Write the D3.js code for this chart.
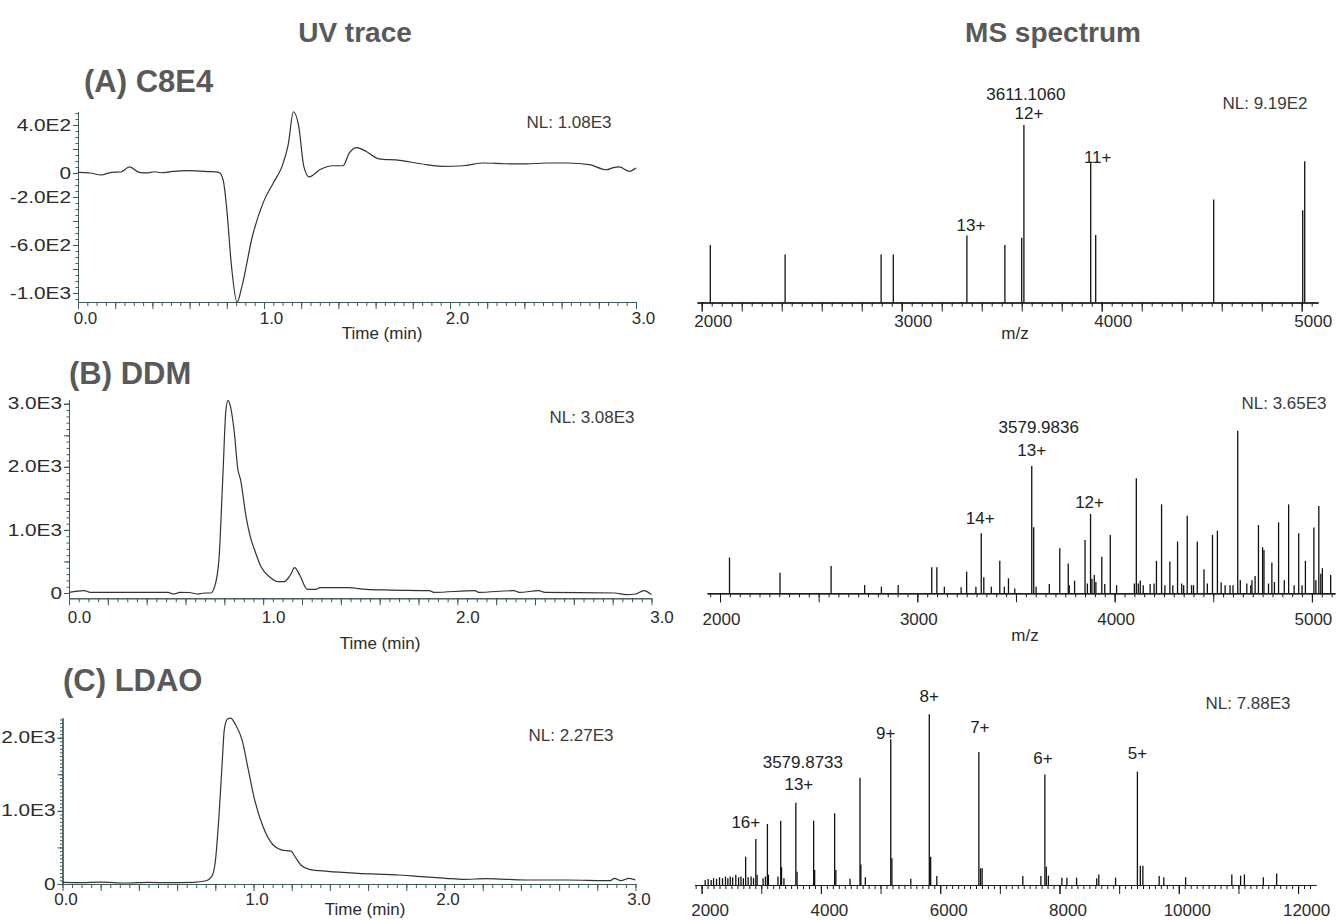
<!DOCTYPE html>
<html>
<head>
<meta charset="utf-8">
<script src="https://cdn.jsdelivr.net/npm/d3@7"></script>
<style>
body { margin: 0; background: #fff; }
text { font-family: "Liberation Sans", Arial, sans-serif; }
</style>
</head>
<body>
<svg id="fig" width="1338" height="921"></svg>
<script>
/* Data: UV traces as [time (min), absorbance], MS peaks as [m/z, relative intensity %] */

var uvA = [[0,5],[0.067,0],[0.124,-17],[0.18,5],[0.23,8],[0.277,50],[0.33,5],[0.37,0],[0.41,10],[0.45,2],[0.5,12],
	[0.6,20],[0.7,12],[0.757,5],[0.78,-55],[0.8,-304],[0.825,-773],[0.855,-1077],[0.882,-940],[0.938,-525],
	[0.995,-249],[1.05,-83],[1.097,55],[1.13,234],[1.158,510],[1.187,386],[1.214,55],[1.243,-33],[1.3,27],
	[1.37,60],[1.425,60],[1.458,166],[1.5,212],[1.55,179],[1.617,118],[1.73,105],[1.843,77],[1.956,55],
	[2.07,60],[2.18,83],[2.296,77],[2.41,75],[2.52,83],[2.635,83],[2.75,69],[2.84,27],[2.88,45],[2.91,50],
	[2.965,14],[3.0,41]];

var uvB = [[0,10],[0.078,37],[0.11,10],[0.3,10],[0.51,10],[0.54,-16],[0.57,10],[0.62,8],[0.66,-16],[0.7,0],
	[0.73,0],[0.75,100],[0.772,522],[0.793,1895],[0.808,2897],[0.819,3055],[0.832,2950],[0.852,2528],
	[0.869,1974],[0.884,1789],[0.912,1208],[0.934,891],[0.956,681],[0.989,416],[1.032,258],[1.075,179],
	[1.108,179],[1.14,285],[1.162,401],[1.188,285],[1.227,58],[1.27,58],[1.292,84],[1.44,84],[1.53,58],
	[1.66,47],[1.855,37],[1.88,10],[2.09,37],[2.11,10],[2.29,37],[2.32,10],[2.42,37],[2.45,10],[2.81,0],
	[2.87,-26],[2.92,-16],[2.96,37],[3.0,-26]];

var uvC = [[0,23],[0.1,20],[0.2,25],[0.33,14],[0.45,22],[0.55,18],[0.686,23],[0.752,45],[0.781,100],[0.801,328],
	[0.819,921],[0.836,1651],[0.847,2107],[0.863,2253],[0.88,2267],[0.907,2175],[0.94,1970],[0.973,1560],
	[1.006,1149],[1.05,784],[1.103,533],[1.138,474],[1.171,456],[1.197,450],[1.215,383],[1.248,260],
	[1.292,201],[1.39,173],[1.546,146],[1.766,123],[1.877,100],[2.008,78],[2.097,64],[2.22,73],[2.427,55],
	[2.64,55],[2.868,45],[2.89,78],[2.923,45],[2.967,78],[3.0,55]];

var msA = [[2043,32.4],[2417,27],[2897,27],[2958,27],[3326,37.8],[3516,32.4],[3600,36.5],[3611,100],
	[3945,79],[3970,38],[4560,58],[5005,52],[5015,79.6]];

var msB = [[2048,22],[2304,12.7],[2563,16.8],[2733,5.1],[2818,4.1],[2903,5.1],[3073,16],[3099,16],[3137,4.1],
	[3222,3.7],[3250,13.3],[3297,4],[3324,36.9],[3337,9.8],[3375,4],[3418,20],[3441,4],[3462,9.2],[3494,3],
	[3580,78.3],[3590,40.6],[3602,4],[3669,5.7],[3722,27.7],[3765,18.4],[3770,5],[3797,7.8],[3850,32.8],
	[3862,6],[3878,48.8],[3885,9],[3897,11.3],[3905,7],[3935,22.5],[3950,5.7],[3978,35.9],[4010,5],
	[4100,6],[4110,70.7],[4120,6],[4130,7.8],[4145,5],[4180,5.7],[4200,6],[4212,20],[4238,54.7],[4255,5],
	[4280,19.5],[4295,5],[4319,31.8],[4340,6],[4350,5],[4368,47.7],[4390,5],[4400,5],[4419,31.8],[4453,14.8],
	[4470,6],[4496,35.9],[4521,38.5],[4540,6.6],[4560,5],[4585,5],[4600,5],[4624,100],[4637,8],[4670,6],
	[4690,5],[4696,8],[4712,10.6],[4729,42],[4750,28.3],[4757,26.6],[4780,6],[4797,18.9],[4810,7],
	[4831,43.6],[4860,8],[4882,54.7],[4910,5],[4933,36.9],[4950,5],[4967,20],[5010,40.4],[5020,8],
	[5035,53.7],[5045,12],[5053,15.4],[5095,11.3]];

var msC = [[2060,3],[2110,3.5],[2160,3],[2200,4],[2250,3.5],[2300,4.5],[2350,4],[2400,5],[2440,4],[2480,5],
	[2520,4.5],[2573,6],[2620,4.5],[2660,5],[2700,4],[2738,16.6],[2780,4.5],[2830,5],[2870,4],[2909,27],
	[2930,6],[3030,4],[3070,5],[3103,35.7],[3120,6],[3280,5],[3326,37.7],[3340,10.4],[3380,4],[3580,48.2],
	[3600,7.8],[3878,37.7],[3895,8.8],[4230,42],[4250,8.8],[4488,3.7],[4655,62.9],[4670,12],[4745,4.5],
	[5171,85.4],[5190,15.6],[5507,3.7],[5817,100],[5840,16.6],[5943,5.3],[6648,77.9],[6676,9.8],[6703,9.8],
	[7385,5.3],[7688,5.3],[7755,64.8],[7779,10.7],[7814,5.5],[8040,4.3],[8124,4.3],[8286,4.3],[8624,3.9],
	[8659,6.2],[8940,4.3],[9306,66.4],[9355,11.3],[9398,11.3],[9671,5.3],[9749,4.5],[10115,4.5],
	[10889,6.2],[11036,5.5],[11100,6.2],[11417,4.5],[11641,6.8]];

/* Annotations: [text, m/z of the peak they mark] */
var notesA = [["3611.1060",3611],["12+",3611],["13+",3326],["11+",3945]];
var notesB = [["3579.9836",3580],["13+",3580],["14+",3324],["12+",3878]];
var notesC = [["3579.8733",3580],["13+",3580],["16+",2909],["9+",5171],["8+",5817],["7+",6648],["6+",7755],["5+",9306]];

var uvYLabelsA = [400, 0, -200, -600, -1000],
	uvYLabelsB = [3000, 2000, 1000, 0],
	uvYLabelsC = [2000, 1000, 0];

var nlLabels = {uvA: "NL: 1.08E3", uvB: "NL: 3.08E3", uvC: "NL: 2.27E3",
				msA: "NL: 9.19E2", msB: "NL: 3.65E3", msC: "NL: 7.88E3"};

/* Layout */

var AXIS_UV = "#3e5a5a",
	AXIS_MS = "#1a1a1a",
	TEXT    = "#2b2b2b",
	HEAD    = "#595959";

var LAYOUT_UV = {
	A: {x0: 78, x1: 636, yt: 112, yb: 302, yDom: [-1075, 508], yMinor: 50, yMajor: 200,
		xLabBase: 324, xLabDx: 7, time: [382, 339], nl: [569, 128], title: [84, 92, "(A) C8E4"]},
	B: {x0: 69, x1: 651.5, yt: 400, yb: 598.3, yDom: [-84, 3060], yMinor: 100, yMajor: 500,
		xLabBase: 623, xLabDx: 10, time: [380, 649], nl: [592, 423], title: [69, 384, "(B) DDM"]},
	C: {x0: 62.5, x1: 635.5, yt: 718, yb: 884, yDom: [0, 2270], yMinor: 50, yMajor: 500,
		xLabBase: 905, xLabDx: 3, time: [365, 915], nl: [571, 741], title: [63, 691, "(C) LDAO"]}
};

var LAYOUT_MS = {
	A: {x0: 697, x1: 1318, mzDom: [1976.5, 5081.5], yb: 302.5, y100: 125, minor: 50, major: 200,
		labels: [2000, 3000, 4000, 5000], labDx: 11, labBase: 327, mz: [1015, 339], nl: [1265, 109],
		gaps: [[25, 2], [6, 5], [4, 4], [-1, 7]]},
	B: {x0: 707, x1: 1335, mzDom: [1934, 5117], yb: 593.3, y100: 430.7, minor: 50, major: 500,
		labels: [2000, 3000, 4000, 5000], labDx: 1, labBase: 625, mz: [1025, 641], nl: [1284, 409],
		gaps: [[33, 7], [10, 0], [9, -1], [6, -1]]},
	C: {x0: 694.7, x1: 1315.8, mzDom: [1884, 12297], yb: 885, y100: 714.3, minor: 100, major: 1000,
		labels: [2000, 4000, 6000, 8000, 10000, 12000], labDx: 8, labBase: 916, mz: null, nl: [1248, 709],
		gaps: [[35, 7], [13, 3], [11, -10], [0, -5], [12, 0], [19, 1], [10, -2], [13, 0]]}
};

var svg = d3.select("#fig");

function fmtE(v) {
	return v === 0 ? "0" : d3.format(".1e")(v).replace("e+", "E").replace("\u2212", "-");
}

function multiples(dom, step) {
	var lo = Math.ceil(dom[0] / step - 1e-9), hi = Math.floor(dom[1] / step + 1e-9);
	return d3.range(lo, hi + 1).map(function(i) { return +(i * step).toFixed(6); });
}

function styleAxis(g, color) {
	g.attr("font-family", null).attr("font-size", null);
	g.select(".domain").attr("stroke", color);
	g.selectAll(".tick line").attr("stroke", color);
	g.selectAll(".tick text").attr("fill", TEXT).style("font-size", "17px");
}

function plainText(x, y, str, size, anchor, color, weight) {
	return svg.append("text")
		.attr("x", x).attr("y", y)
		.attr("text-anchor", anchor || "middle")
		.attr("fill", color || TEXT)
		.style("font-size", size + "px")
		.style("font-weight", weight || "normal")
		.text(str);
}

function drawUV(L, pts, yLabels, nl) {
	var x = d3.scaleLinear().domain([0, 3]).range([L.x0, L.x1]);
	var y = d3.scaleLinear().domain(L.yDom).range([L.yb, L.yt]);
	var g = svg.append("g");

	// y axis: minor, major, labelled ticks
	var yMinor = multiples(L.yDom, L.yMinor);
	g.append("g").attr("transform", "translate(" + L.x0 + ",0)")
		.call(d3.axisLeft(y).tickValues(yMinor).tickSize(2.5).tickSizeOuter(0).tickFormat(""))
		.call(styleAxis, AXIS_UV);
	g.append("g").attr("transform", "translate(" + L.x0 + ",0)")
		.call(d3.axisLeft(y).tickValues(multiples(L.yDom, L.yMajor)).tickSize(5).tickSizeOuter(0).tickFormat(""))
		.call(styleAxis, AXIS_UV);
	var ya = g.append("g").attr("transform", "translate(" + L.x0 + ",0)")
		.call(d3.axisLeft(y).tickValues(yLabels).tickSize(5).tickSizeOuter(0).tickFormat(fmtE))
		.call(styleAxis, AXIS_UV);
	ya.selectAll(".tick text").attr("x", -7).style("font-size", "16px")
		.each(function() {
			var w = this.getComputedTextLength();
			d3.select(this).attr("textLength", w * 1.3).attr("lengthAdjust", "spacingAndGlyphs");
		});

	// x axis
	g.append("g").attr("transform", "translate(0," + L.yb + ")")
		.call(d3.axisBottom(x).tickValues(d3.range(61).map(function(i) { return i * 0.05; }))
			.tickSize(4).tickSizeOuter(0).tickFormat(""))
		.call(styleAxis, AXIS_UV);
	var xa = g.append("g").attr("transform", "translate(0," + L.yb + ")")
		.call(d3.axisBottom(x).tickValues(d3.range(16).map(function(i) { return i * 0.2; }))
			.tickSize(7).tickSizeOuter(0).tickFormat(function(d) {
				return Math.abs(d - Math.round(d)) < 1e-6 ? d3.format(".1f")(d) : "";
			}))
		.call(styleAxis, AXIS_UV);
	xa.selectAll(".tick text").attr("y", L.xLabBase - L.yb).attr("dy", 0).attr("dx", L.xLabDx);

	// trace
	g.append("path")
		.datum(pts)
		.attr("fill", "none")
		.attr("stroke", "#333")
		.attr("stroke-width", 1.2)
		.attr("d", d3.line().x(function(d) { return x(d[0]); }).y(function(d) { return y(d[1]); })
			.curve(d3.curveMonotoneX));

	plainText(L.time[0], L.time[1], "Time (min)", 17);
	plainText(L.nl[0], L.nl[1], nl, 17, "middle", "#3a3a3a");
	plainText(L.title[0], L.title[1], L.title[2], 31, "start", HEAD, "bold");
}

function drawMS(L, peaks, notes, nl) {
	var x = d3.scaleLinear().domain(L.mzDom).range([L.x0, L.x1]);
	var y = d3.scaleLinear().domain([0, 100]).range([L.yb, L.y100]);
	var g = svg.append("g");

	g.selectAll("line.peak")
		.data(peaks)
		.enter().append("line")
		.classed("peak", true)
		.attr("x1", function(d) { return x(d[0]); })
		.attr("x2", function(d) { return x(d[0]); })
		.attr("y1", L.yb)
		.attr("y2", function(d) { return y(d[1]); })
		.attr("stroke", "#111")
		.attr("stroke-width", 1.3);

	g.append("g").attr("transform", "translate(0," + L.yb + ")")
		.call(d3.axisBottom(x).tickValues(multiples(L.mzDom, L.minor)).tickSize(4).tickSizeOuter(0).tickFormat(""))
		.call(styleAxis, AXIS_MS);
	g.append("g").attr("transform", "translate(0," + L.yb + ")")
		.call(d3.axisBottom(x).tickValues(multiples(L.mzDom, L.major)).tickSize(9).tickSizeOuter(0).tickFormat(""))
		.call(styleAxis, AXIS_MS);
	var xa = g.append("g").attr("transform", "translate(0," + L.yb + ")")
		.call(d3.axisBottom(x).tickValues(L.labels).tickSize(9).tickSizeOuter(0).tickFormat(d3.format("d")))
		.call(styleAxis, AXIS_MS);
	xa.selectAll(".tick text").attr("y", L.labBase - L.yb).attr("dy", 0).attr("dx", L.labDx);

	// peak annotations, placed above the tallest peak at that m/z
	notes.forEach(function(n, i) {
		var top = d3.max(peaks.filter(function(p) { return Math.abs(p[0] - n[1]) < 3; }), function(p) { return p[1]; });
		plainText(x(n[1]) + L.gaps[i][1], y(top) - L.gaps[i][0], n[0], 17, "middle", "#222");
	});

	if (L.mz) plainText(L.mz[0], L.mz[1], "m/z", 17);
	plainText(L.nl[0], L.nl[1], nl, 17, "middle", "#3a3a3a");
}

plainText(355, 42, "UV trace", 28, "middle", HEAD, "bold");
plainText(1053, 42, "MS spectrum", 28, "middle", HEAD, "bold");

drawUV(LAYOUT_UV.A, uvA, uvYLabelsA, nlLabels.uvA);
drawUV(LAYOUT_UV.B, uvB, uvYLabelsB, nlLabels.uvB);
drawUV(LAYOUT_UV.C, uvC, uvYLabelsC, nlLabels.uvC);

drawMS(LAYOUT_MS.A, msA, notesA, nlLabels.msA);
drawMS(LAYOUT_MS.B, msB, notesB, nlLabels.msB);
drawMS(LAYOUT_MS.C, msC, notesC, nlLabels.msC);
</script>
</body>
</html>
